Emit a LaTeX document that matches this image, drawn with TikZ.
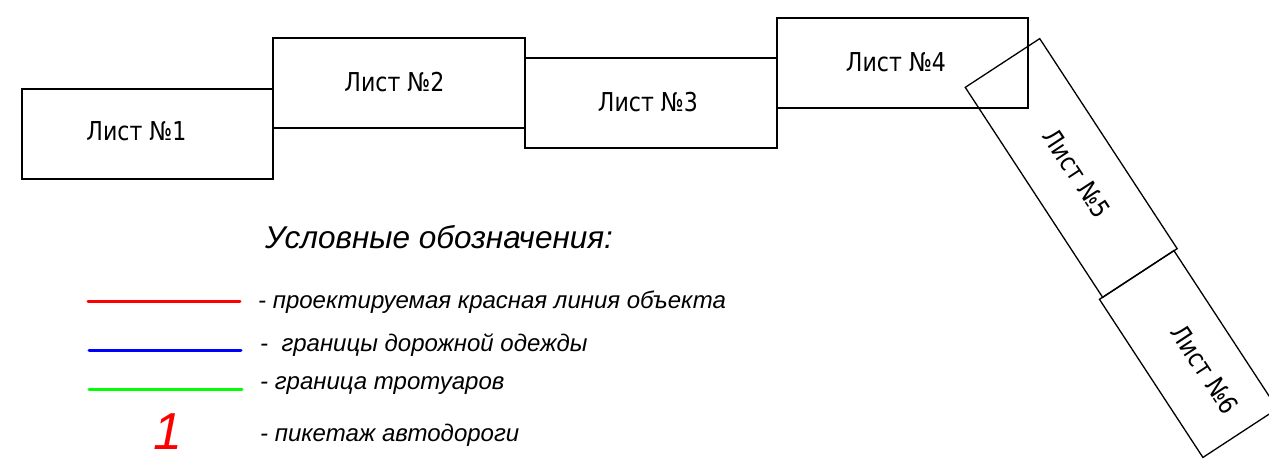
\documentclass[tikz,border=0pt]{standalone}
\usepackage{fontspec}
\setmainfont{Liberation Sans}
\newfontfamily\gost[FakeStretch=0.85]{DejaVu Sans}
\begin{document}
\begin{tikzpicture}[x=1pt,y=-1pt,
  sheet/.style={draw=black,line width=1.3pt,fill=none,inner sep=0pt},
  sheetlbl/.style={inner sep=0pt,font=\gost\fontsize{26}{26}\selectfont},
  lbl/.style={anchor=west,inner sep=0pt,font=\itshape\fontsize{24}{24}\selectfont},
  legline/.style={line width=3pt,line cap=round}]
\useasboundingbox (0,0) rectangle (1269,459);
\node[sheet,minimum width=251pt,minimum height=90pt] (s1) at (147.5,134) {};
\node[sheet,minimum width=252pt,minimum height=90pt] (s2) at (399,83) {};
\node[sheet,minimum width=252pt,minimum height=90pt] (s3) at (651,103) {};
\node[sheet,minimum width=251pt,minimum height=90pt] (s4) at (902.5,63) {};
\node[sheet,minimum width=251pt,minimum height=89pt,rotate=-56.8] (s5) at (1071.2,168) {};
\node[sheet,minimum width=189pt,minimum height=89pt,rotate=-56.8] (s6) at (1188.4,354) {};
\node[sheetlbl] (t1) at (136.5,131) {Лист №1};
\node[sheetlbl] (t2) at (394.5,82) {Лист №2};
\node[sheetlbl] (t3) at (648,102) {Лист №3};
\node[sheetlbl] (t4) at (896,62) {Лист №4};
\node[sheetlbl,rotate=-56.8] (t5) at (1076.7,173.3) {Лист №5};
\node[sheetlbl,rotate=-56.8] (t6) at (1205,369) {Лист №6};
\node[anchor=west,inner sep=0pt,font=\itshape\fontsize{31.5}{31.5}\selectfont] (title) at (265,237) {Условные обозначения:};
\coordinate (r1) at (88,301); \coordinate (r2) at (240,301);
\coordinate (b1) at (89,350); \coordinate (b2) at (241,350);
\coordinate (g1) at (89,389); \coordinate (g2) at (242,389);
\draw[legline,red] (r1) -- (r2);
\draw[legline,blue] (b1) -- (b2);
\draw[legline,green] (g1) -- (g2);
\node[lbl] (l1) at (258,302) {- проектируемая красная линия объекта};
\node[lbl] (l2) at (260,345) {-\ \ границы дорожной одежды};
\node[lbl] (l3) at (260,386) {- граница тротуаров};
\node[inner sep=0pt,text=red,font=\itshape\fontsize{52}{52}\selectfont] (one) at (168,432) {1};
\node[lbl] (l4) at (260,435) {- пикетаж автодороги};
\end{tikzpicture}
\end{document}
